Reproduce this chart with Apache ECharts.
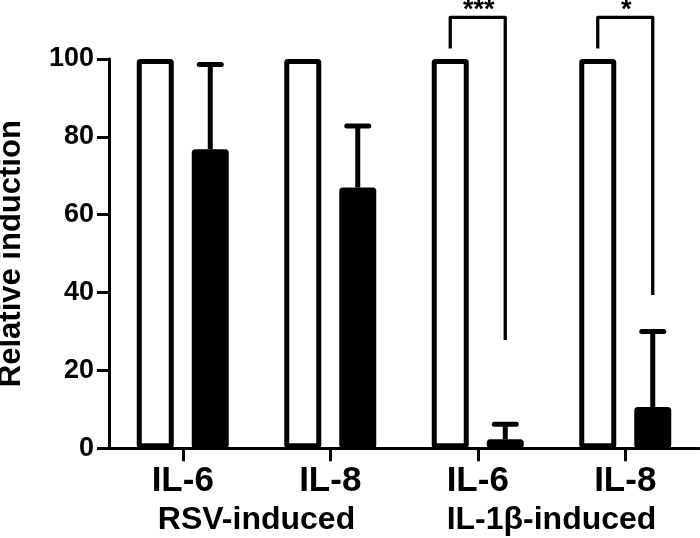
<!DOCTYPE html>
<html><head><meta charset="utf-8">
<script src="https://cdn.jsdelivr.net/npm/echarts@6/dist/echarts.min.js"></script>
<style>html,body{margin:0;padding:0;background:#fff}#c{width:700px;height:538px}</style>
</head><body><div id="c"></div>
<script>
// ---- data ----
const categories = ['IL-6', 'IL-8', 'IL-6', 'IL-8'];
const groupLabels = ['RSV-induced', 'IL-1β-induced'];
const controlValues = [100, 100, 100, 100];
const treatedValues = [76.8, 67.0, 2.3, 10.6];
const treatedErrorTop = [98.6, 82.8, 6.2, 30.0];
const yMin = 0, yMax = 100, yInterval = 20;
const bracketCategory = [2, 3];
const bracketLeftBottom = [102.7, 102.7];
const bracketTop = [110.7, 110.7];
const bracketRightBottom = [27.8, 39.4];
const bracketLabels = ['***', '*'];

// ---- style ----
const FONT = '"Liberation Sans", Arial, sans-serif';
const BAR_W = 37, BAR_BORDER = 5, GAP_PX = 18;
const BAR_OFFSET = (BAR_W + GAP_PX) / 2;
const CAP_HALF = 11;

const chart = echarts.init(document.getElementById('c'), null, {renderer: 'canvas'});

const errData = categories.map((c, i) => [i, treatedValues[i], treatedErrorTop[i]]);
const bracketData = bracketCategory.map((c, i) => [c, bracketLeftBottom[i], bracketTop[i], bracketRightBottom[i]]);

chart.setOption({
  animation: false,
  backgroundColor: '#fff',
  grid: {left: 109, right: 1, top: 59, bottom: 89.7, containLabel: false, outerBoundsMode: 'none'},
  xAxis: [{
    type: 'category', data: categories, gridIndex: 0,
    axisLine: {lineStyle: {color: '#000', width: 3}},
    axisTick: {show: true, length: 13, alignWithLabel: true, lineStyle: {color: '#000', width: 3}},
    axisLabel: {interval: 0, margin: 16, color: '#000', fontSize: 35, fontWeight: 'bold', fontFamily: FONT},
    splitLine: {show: false}
  }, {
    type: 'category', data: groupLabels, gridIndex: 0, position: 'bottom',
    axisLine: {show: false}, axisTick: {show: false}, splitLine: {show: false},
    axisLabel: {interval: 0, margin: 56, color: '#000', fontSize: 32, fontWeight: 'bold', fontFamily: FONT}
  }],
  yAxis: {
    type: 'value', min: yMin, max: yMax, interval: yInterval,
    name: 'Relative induction', nameLocation: 'middle', nameRotate: 90, nameGap: 82,
    nameTextStyle: {color: '#000', fontSize: 31, fontWeight: 'bold', fontFamily: FONT},
    axisLine: {show: true, lineStyle: {color: '#000', width: 3}},
    axisTick: {show: true, length: 12, lineStyle: {color: '#000', width: 3}},
    axisLabel: {margin: 15, color: '#000', fontSize: 27, fontWeight: 'bold', fontFamily: FONT},
    splitLine: {show: false}
  },
  series: [{
    type: 'bar', name: 'control', data: controlValues, barWidth: BAR_W, barGap: (GAP_PX / BAR_W * 100) + '%',
    itemStyle: {color: '#fff', borderColor: '#000', borderWidth: BAR_BORDER, borderRadius: 1},
    z: 2
  }, {
    type: 'bar', name: 'treated', data: treatedValues, barWidth: BAR_W,
    itemStyle: {color: '#000', borderColor: '#000', borderWidth: BAR_BORDER, borderRadius: 1},
    z: 2
  }, {
    type: 'custom', name: 'error', data: errData, z: 3, clip: false,
    encode: {x: 0, y: [1, 2]},
    renderItem: function (params, api) {
      const i = api.value(0);
      const base = api.coord([i, api.value(1)]);
      const top = api.coord([i, api.value(2)]);
      const x = base[0] + BAR_OFFSET;
      return {type: 'group', children: [
        {type: 'line', shape: {x1: x, y1: base[1], x2: x, y2: top[1]}, style: {stroke: '#000', lineWidth: 5}},
        {type: 'line', shape: {x1: x - CAP_HALF, y1: top[1], x2: x + CAP_HALF, y2: top[1]}, style: {stroke: '#000', lineWidth: 5, lineCap: 'round'}}
      ]};
    }
  }, {
    type: 'custom', name: 'brackets', data: bracketData, z: 4, clip: false,
    encode: {x: 0, y: [1, 2, 3]},
    renderItem: function (params, api) {
      const i = api.value(0);
      const lb = api.coord([i, api.value(1)]);
      const tp = api.coord([i, api.value(2)]);
      const rb = api.coord([i, api.value(3)]);
      const xl = lb[0] - BAR_OFFSET, xr = lb[0] + BAR_OFFSET;
      return {type: 'group', children: [
        {type: 'polyline', shape: {points: [[xl, lb[1]], [xl, tp[1]], [xr, tp[1]], [xr, rb[1]]]},
          style: {stroke: '#000', lineWidth: 3.3, fill: null, lineJoin: 'round'}},
        {type: 'text', style: {text: bracketLabels[params.dataIndex], x: (xl + xr) / 2 + 1, y: tp[1] - 7,
          align: 'center', verticalAlign: 'middle', fill: '#000', fontSize: 27, fontWeight: 'bold', fontFamily: FONT}}
      ]};
    }
  }]
});
</script>
</body></html>
